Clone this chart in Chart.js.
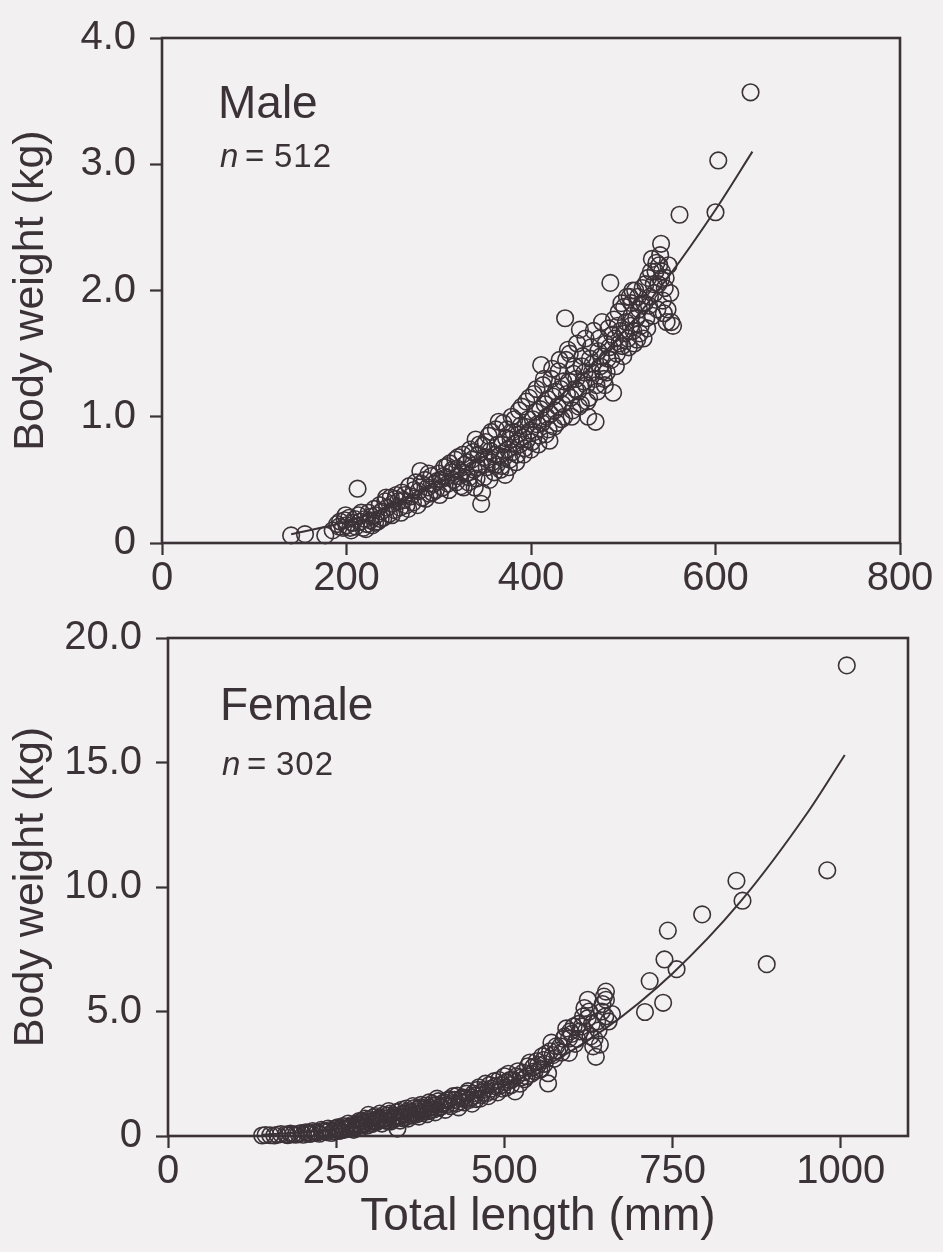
<!DOCTYPE html>
<html>
<head>
<meta charset="utf-8">
<script src="https://cdn.jsdelivr.net/npm/chart.js@4.4.0/dist/chart.umd.min.js"></script>
<style>
body { margin: 0; background: #f3f0f1; }
canvas { display: block; }
</style>
</head>
<body>
<canvas id="maleChart" width="943" height="600"></canvas>
<canvas id="femaleChart" width="943" height="652"></canvas>
<script>
// total length (mm), body weight (kg)
const malePoints = [
  [140,0.06],[155,0.07],[177,0.06],[185,0.10],[190,0.15],[193,0.17],[196,0.12],[198,0.18],[200,0.14],[203,0.20],
  [205,0.10],[207,0.16],[210,0.13],[212,0.43],[213,0.22],[215,0.17],[218,0.12],[220,0.19],[222,0.15],[224,0.24],
  [226,0.18],[228,0.14],[230,0.27],[232,0.22],[234,0.17],[236,0.30],[238,0.25],[240,0.20],[242,0.33],[244,0.28],
  [246,0.23],[248,0.36],[250,0.31],[252,0.26],[254,0.38],[256,0.33],[258,0.28],[260,0.40],[262,0.34],[265,0.30],
  [268,0.45],[270,0.37],[272,0.32],[275,0.48],[278,0.41],[280,0.57],[282,0.36],[285,0.50],[288,0.44],[290,0.39],
  [292,0.53],[295,0.47],[297,0.42],[300,0.55],[302,0.50],[304,0.44],[306,0.60],[308,0.52],[310,0.47],[312,0.63],
  [314,0.56],[316,0.50],[318,0.66],[320,0.59],[322,0.53],[324,0.45],[326,0.70],[328,0.62],[330,0.55],[332,0.48],
  [334,0.74],[336,0.66],[338,0.58],[340,0.82],[341,0.51],[343,0.70],[345,0.62],[346,0.31],[347,0.40],[348,0.77],
  [350,0.68],[352,0.60],[354,0.85],[356,0.73],[358,0.64],[360,0.56],[362,0.90],[364,0.78],[366,0.69],[368,0.61],
  [370,0.95],[372,0.54],[373,0.83],[375,0.74],[377,0.66],[379,1.00],[381,0.88],[383,0.79],[385,0.70],[387,1.05],
  [389,0.93],[391,0.84],[393,0.75],[395,1.12],[397,0.98],[399,0.89],[401,0.80],[403,1.18],[405,1.04],[407,0.94],
  [409,0.85],[411,1.41],[413,1.25],[415,1.10],[417,1.00],[419,0.90],[420,0.81],[422,1.30],[424,1.16],[426,1.05],
  [428,0.95],[430,1.36],[432,1.22],[434,1.10],[436,1.00],[437,1.78],[438,1.45],[440,1.53],[441,1.28],[443,1.15],
  [445,1.05],[447,1.40],[449,1.30],[451,1.20],[453,1.69],[454,1.10],[456,1.48],[458,1.35],[460,1.25],[462,1.00],
  [463,1.15],[465,1.55],[467,1.42],[469,1.30],[470,0.96],[472,1.20],[474,1.62],[476,1.48],[478,1.36],[480,1.25],
  [482,1.35],[484,1.70],[485,1.55],[486,2.06],[487,1.45],[489,1.19],[490,1.77],[491,1.62],[493,1.50],[495,1.83],
  [497,1.68],[499,1.56],[501,1.87],[503,1.75],[505,1.62],[507,1.95],[509,1.80],[509,1.90],[511,1.68],[513,2.00],
  [515,1.61],[517,1.85],[519,1.72],[521,2.02],[523,1.90],[525,1.78],[527,2.10],[529,1.95],[531,2.25],[533,2.05],
  [535,2.15],[537,1.85],[539,2.20],[541,2.09],[541,2.37],[543,1.92],[545,2.02],[547,1.75],[548,1.85],[551,1.98],
  [554,1.72],[561,2.60],[600,2.62],[603,3.03],[638,3.57],
  [192,0.13],[199,0.22],[204,0.12],[209,0.19],[216,0.24],[221,0.11],[227,0.21],[231,0.16],[237,0.19],[243,0.36],
  [249,0.22],[253,0.35],[259,0.24],[263,0.38],[267,0.27],[273,0.42],[277,0.30],[281,0.47],[286,0.35],[289,0.55],
  [293,0.40],[298,0.49],[301,0.38],[305,0.53],[309,0.61],[311,0.42],[315,0.58],[319,0.48],[321,0.68],[325,0.56],
  [327,0.44],[331,0.64],[333,0.52],[337,0.72],[339,0.44],[342,0.60],[344,0.78],[349,0.52],[351,0.80],[353,0.66],
  [355,0.50],[357,0.88],[361,0.70],[363,0.62],[365,0.96],[367,0.58],[369,0.78],[371,0.68],[374,0.90],[376,0.60],
  [378,0.82],[380,0.72],[382,0.98],[384,0.64],[386,0.86],[388,0.78],[390,1.08],[392,0.70],[394,0.92],[396,0.82],
  [398,1.15],[400,0.74],[402,0.98],[404,0.88],[406,1.22],[408,0.78],[410,1.06],[412,0.95],[414,1.30],[416,0.86],
  [418,1.14],[421,1.02],[423,1.38],[425,0.92],[427,1.20],[429,1.08],[431,1.45],[433,0.98],[435,1.28],[439,1.18],
  [442,1.50],[444,1.00],[446,1.34],[448,1.22],[450,1.58],[452,1.08],[455,1.40],[457,1.28],[459,1.62],[461,1.12],
  [464,1.46],[466,1.35],[468,1.68],[471,1.25],[473,1.52],[475,1.40],[477,1.75],[479,1.30],[481,1.58],[483,1.46],
  [488,1.65],[492,1.40],[494,1.72],[496,1.58],[498,1.90],[500,1.48],[502,1.66],[504,1.95],[506,1.55],[508,1.72],
  [510,2.00],[512,1.58],[514,1.78],[516,1.95],[518,1.66],[520,1.88],[522,1.62],[524,2.05],[526,1.70],[528,1.88],
  [530,2.15],[532,1.80],[534,1.98],[536,2.22],[538,2.05],[540,2.28],[542,2.15],[544,1.82],[546,2.10],[549,2.20],
  [552,1.75]
];
const maleCurve = [
  [140,0.07],[200,0.17],[250,0.30],[300,0.47],[350,0.69],[400,0.96],[450,1.29],[500,1.67],[550,2.12],[600,2.64],[640,3.10]
];

const femalePoints = [
  [140,0.02],[152,0.03],[163,0.05],[175,0.06],[182,0.10],[190,0.05],[198,0.12],[205,0.15],[210,0.08],[215,0.20],
  [222,0.14],[228,0.25],[233,0.18],[238,0.30],[243,0.12],[248,0.28],[252,0.35],[256,0.22],[260,0.40],[265,0.30],
  [268,0.50],[272,0.38],[276,0.25],[280,0.45],[284,0.60],[287,0.35],[290,0.52],[293,0.70],[296,0.42],[298,0.85],
  [300,0.58],[303,0.48],[306,0.75],[309,0.55],[312,0.66],[315,0.90],[318,0.50],[320,0.72],[323,0.62],[326,0.82],
  [328,1.00],[331,0.58],[334,0.75],[336,0.68],[339,0.95],[341,0.30],[343,0.80],[345,0.62],[347,1.05],[349,0.72],
  [352,0.88],[354,1.10],[357,0.70],[359,0.95],[362,0.82],[364,1.20],[367,0.90],[370,1.05],[373,0.78],[376,1.25],
  [379,0.98],[382,1.12],[385,0.88],[388,1.35],[391,1.05],[394,1.20],[397,0.95],[400,1.50],[404,1.15],[408,1.30],
  [412,1.05],[416,1.42],[420,1.20],[424,1.60],[428,1.30],[432,1.15],[436,1.50],[440,1.35],[444,1.70],[448,1.45],
  [452,1.30],[456,1.62],[460,1.85],[464,1.50],[468,1.75],[472,2.10],[476,1.60],[480,1.90],[485,2.20],[490,1.75],
  [495,2.05],[500,2.40],[503,1.95],[508,2.25],[512,2.28],[516,1.79],[520,2.60],[525,2.35],[530,2.28],[535,2.80],
  [540,2.50],[543,2.77],[548,3.00],[552,2.65],[556,3.20],[560,2.90],[565,2.52],[565,2.11],[568,3.40],[570,3.75],
  [574,3.10],[579,3.42],[583,3.60],[588,3.90],[592,4.32],[596,3.91],[596,3.34],[600,4.10],[605,3.70],[610,4.50],
  [615,4.40],[619,5.14],[624,5.47],[624,4.73],[628,4.00],[632,3.60],[636,3.18],[640,4.24],[642,3.67],[645,5.00],
  [648,5.60],[651,5.80],[651,5.47],[655,4.60],[660,4.90],[709,4.98],[716,6.22],[736,5.35],[738,7.09],[743,8.25],
  [756,6.70],[794,8.90],[845,10.25],[854,9.45],[890,6.90],[980,10.67],[1009,18.9],
  [145,0.04],[158,0.02],[168,0.08],[178,0.03],[186,0.07],[194,0.09],[201,0.05],[208,0.13],[213,0.10],[219,0.16],
  [225,0.09],[230,0.20],[236,0.15],[241,0.24],[246,0.18],[250,0.30],[254,0.20],[258,0.32],[262,0.25],[266,0.38],
  [270,0.30],[274,0.45],[278,0.35],[282,0.52],[286,0.42],[289,0.62],[292,0.48],[295,0.58],[299,0.68],[302,0.52],
  [305,0.62],[308,0.80],[311,0.58],[314,0.72],[317,0.64],[321,0.85],[324,0.70],[327,0.60],[330,0.90],[333,0.65],
  [337,0.82],[340,0.74],[342,0.98],[346,0.78],[350,0.90],[353,0.76],[356,1.00],[360,0.85],[363,0.95],[366,1.12],
  [369,0.86],[372,1.00],[375,1.15],[378,0.92],[381,1.06],[384,1.22],[387,1.00],[390,1.14],[393,1.30],[396,1.08],
  [399,1.24],[402,1.40],[406,1.18],[410,1.35],[414,1.25],[418,1.48],[422,1.32],[426,1.45],[430,1.62],[434,1.38],
  [438,1.55],[442,1.48],[446,1.80],[450,1.55],[454,1.70],[458,1.48],[462,1.95],[466,1.65],[470,1.85],[474,1.72],
  [478,2.05],[482,1.80],[487,2.00],[492,2.25],[497,1.90],[502,2.15],[506,2.50],[510,2.05],[518,2.40],[523,2.10],
  [528,2.55],[533,2.40],[538,2.95],[545,2.60],[550,2.85],[555,2.70],[558,3.05],[562,3.30],[572,3.25],[577,3.60],
  [585,3.35],[590,4.00],[598,4.20],[603,4.40],[608,3.90],[612,4.20],[617,4.80],[621,4.20],[626,5.00],[630,4.50],
  [634,3.90],[638,4.60],[646,5.30],[650,4.80]
];
const femaleCurve = [
  [140,0.05],[250,0.27],[350,0.72],[450,1.48],[550,2.66],[650,4.31],[750,6.53],[850,9.38],[950,12.96],[1006,15.3]
];

const maleXTicks = [0, 200, 400, 600, 800];
const maleYTicks = [0, 1, 2, 3, 4];
const femaleXTicks = [0, 250, 500, 750, 1000];
const femaleYTicks = [0, 5, 10, 15, 20];

const ink = '#3b3237';
const fontFamily = '"Liberation Sans", Arial, Helvetica, sans-serif';
Chart.defaults.color = ink;
Chart.defaults.font.family = fontFamily;

const toXY = (arr) => arr.map((p) => ({x: p[0], y: p[1]}));

// frame round the plot and the sex / n labels
const framePlugin = {
    id: 'frame',
    afterDraw(chart, args, opts) {
        const ctx = chart.ctx;
        const a = chart.chartArea;
        ctx.save();
        ctx.strokeStyle = ink;
        ctx.lineWidth = 2.6;
        ctx.strokeRect(a.left, a.top, a.right - a.left, a.bottom - a.top);
        ctx.fillStyle = ink;
        ctx.textBaseline = 'alphabetic';
        ctx.textAlign = 'left';
        ctx.font = '46px ' + fontFamily;
        ctx.fillText(opts.title, a.left + opts.dx, a.top + opts.titleY);
        ctx.font = 'italic 33px ' + fontFamily;
        ctx.fillText('n', a.left + opts.dx + 2, a.top + opts.nY);
        ctx.font = '33px ' + fontFamily;
        ctx.fillText('=', a.left + opts.dx + 27, a.top + opts.nY);
        ctx.letterSpacing = '1px';
        ctx.fillText(opts.n, a.left + opts.dx + 56, a.top + opts.nY);
        ctx.restore();
    }
};

function makeChart(selector, cfg) {
    const tickLabel = (v) => v === 0 ? '0' : v.toFixed(1);
    return new Chart(document.querySelector(selector).getContext('2d'), {
        type: 'scatter',
        data: {
            datasets: [{
                data: toXY(cfg.points),
                pointStyle: 'circle',
                pointRadius: 8.3,
                pointBorderWidth: 1.6,
                pointBorderColor: ink,
                pointBackgroundColor: 'rgba(0,0,0,0)',
                clip: false,
            }, {
                data: toXY(cfg.curve),
                showLine: true,
                pointRadius: 0,
                borderColor: ink,
                borderWidth: 2,
                cubicInterpolationMode: 'monotone',
                fill: false,
            }]
        },
        options: {
            responsive: false,
            animation: false,
            events: [],
            layout: {padding: cfg.padding},
            plugins: {
                legend: {display: false},
                tooltip: {enabled: false},
                frame: cfg.frame,
            },
            scales: {
                x: {
                    type: 'linear',
                    min: 0,
                    max: cfg.xMax,
                    afterBuildTicks: (s) => { s.ticks = cfg.xTicks.map((v) => ({value: v})); },
                    afterFit: (s) => { s.height = cfg.xHeight; },
                    border: {display: false},
                    grid: {drawOnChartArea: false, drawTicks: true, tickLength: 12, tickWidth: 2.2, tickColor: ink},
                    ticks: {font: {size: 40}, padding: 0, maxRotation: 0, callback: (v) => String(v)},
                    title: cfg.xTitle ? {display: true, text: 'Total length (mm)', font: {size: 46}, padding: {top: 0, bottom: 7}} : {display: false},
                },
                y: {
                    type: 'linear',
                    min: 0,
                    max: cfg.yMax,
                    afterBuildTicks: (s) => { s.ticks = cfg.yTicks.map((v) => ({value: v})); },
                    afterFit: (s) => { s.width = cfg.yWidth; },
                    border: {display: false},
                    grid: {drawOnChartArea: false, drawTicks: true, tickLength: 12, tickWidth: 2.2, tickColor: ink},
                    ticks: {font: {size: 40}, padding: 14, callback: tickLabel},
                    title: {display: true, text: 'Body weight (kg)', font: {size: 43}, padding: {top: 5, bottom: 0}},
                }
            }
        },
        plugins: [framePlugin]
    });
}

makeChart('#maleChart', {
    points: malePoints, curve: maleCurve,
    xMax: 800, yMax: 4, xTicks: maleXTicks, yTicks: maleYTicks,
    padding: {top: 33, right: 43, left: 0, bottom: 0},
    yWidth: 162, xHeight: 57, xTitle: false,
    frame: {title: 'Male', n: '512', dx: 56, titleY: 80, nY: 129}
});

makeChart('#femaleChart', {
    points: femalePoints, curve: femaleCurve,
    xMax: 1100, yMax: 20, xTicks: femaleXTicks, yTicks: femaleYTicks,
    padding: {top: 28, right: 35, left: 0, bottom: 0},
    yWidth: 168, xHeight: 116, xTitle: true,
    frame: {title: 'Female', n: '302', dx: 52, titleY: 82, nY: 137}
});
</script>
</body>
</html>
